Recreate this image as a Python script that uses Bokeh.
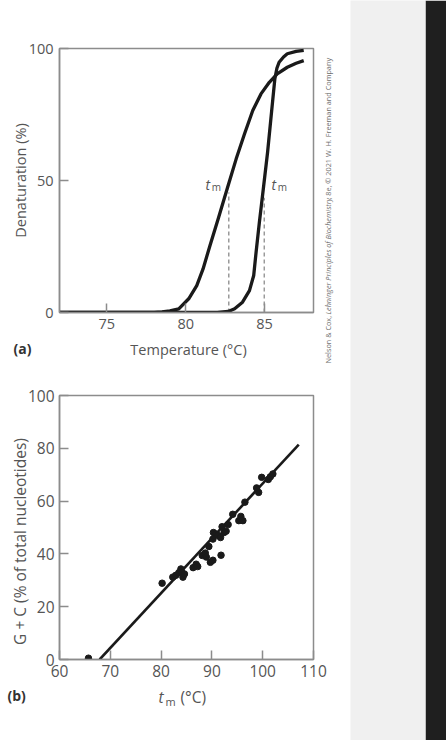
from math import pi
from bokeh.plotting import figure
from bokeh.models import Range1d, FixedTicker, Label
from bokeh.layouts import row, column
from bokeh.embed import file_html
from bokeh.resources import INLINE

# ---------------- panel (a): melting curves ----------------
temp_broad = [72.0, 78.0, 78.5, 79.0, 79.56, 80.19, 80.7, 81.1, 81.54, 82.06, 82.69,
              83.2, 83.73, 84.25, 84.77, 85.3, 85.8, 86.44, 87.0, 87.48]
den_broad = [0.0, 0.0, 0.2, 0.6, 1.4, 5.2, 10.2, 16.5, 25.4, 35.5, 48.1,
             58.2, 67.7, 76.5, 82.8, 87.2, 90.4, 92.9, 94.4, 95.4]
temp_sharp = [72.0, 82.0, 82.7, 83.1, 83.6, 84.04, 84.31, 84.46, 84.67, 84.92,
              85.19, 85.44, 85.65, 85.78, 85.92, 86.2, 86.44, 87.0, 87.48]
den_sharp = [0.0, 0.0, 0.4, 1.4, 3.9, 8.3, 14.0, 22.8, 34.2, 46.9,
             60.7, 75.9, 88.5, 92.5, 94.8, 96.8, 98.0, 98.9, 99.3]
tm_values = [82.73, 84.98]
tm_dash_top = [45.5, 43.5]
a_xticks = [75, 80, 85]
a_yticks = [0, 50, 100]

# ---------------- panel (b): G+C content vs tm ----------------
b_tm = [65.7, 80.2, 82.3, 82.9, 83.5, 83.9, 84.1, 84.3, 84.6, 86.3, 86.9, 87.2,
        88.1, 88.7, 88.9, 89.4, 89.7, 90.2, 90.2, 90.3, 90.8, 91.2, 91.7, 91.8,
        92.0, 92.4, 92.8, 93.2, 94.1, 95.3, 95.7, 96.1, 96.5, 98.8, 99.2, 99.8,
        101.1, 101.5, 102.0]
b_gc = [0.5, 28.9, 31.2, 31.9, 32.9, 34.3, 33.0, 31.2, 32.4, 34.8, 36.1, 35.2,
        39.4, 40.3, 38.8, 42.8, 36.8, 37.6, 45.6, 48.1, 47.5, 47.0, 46.2, 39.5,
        50.3, 48.1, 48.6, 51.1, 55.0, 52.6, 54.2, 52.6, 59.6, 65.0, 63.3, 69.0,
        68.2, 69.2, 70.3]
fit_tm = [67.9, 107.1]
fit_gc = [0.0, 81.4]
b_xticks = [60, 70, 80, 90, 100, 110]
b_yticks = [0, 20, 40, 60, 80, 100]

FONT = "Open Sans"
TXT = "#555555"
FRAME = "#8c8c8c"
INK = "#1a1a1a"
W = 350


def style(p, xt, yt, size, standoff):
    p.xgrid.visible = False
    p.ygrid.visible = False
    for ax in (p.xaxis[0], p.yaxis[0]):
        ax.axis_line_color = FRAME
        ax.axis_line_width = 1.5
        ax.major_tick_line_color = FRAME
        ax.major_tick_line_width = 1.5
        ax.major_tick_in = 9
        ax.major_tick_out = 0
        ax.minor_tick_line_color = None
        ax.major_label_text_font = FONT
        ax.major_label_text_font_size = size
        ax.major_label_text_color = TXT
        ax.major_label_standoff = standoff
    p.xaxis[0].ticker = FixedTicker(ticks=xt)
    p.yaxis[0].ticker = FixedTicker(ticks=yt)
    p.outline_line_color = FRAME
    p.outline_line_width = 1.5


def lab(p, text, x, y, size, color=TXT, style_="normal", align="left",
        baseline="middle", angle=0.0, units="canvas", place="below"):
    obj = Label(x=x, y=y, x_units=units, y_units=units, text=text,
                text_font=FONT, text_font_size=size, text_color=color,
                text_font_style=style_, text_align=align,
                text_baseline=baseline, angle=angle)
    if place is None:
        p.add_layout(obj)
    else:
        p.add_layout(obj, place)


# ---------------- figure (a) ----------------
pa = figure(width=W, height=370, x_range=Range1d(72, 88.1), y_range=Range1d(0, 100),
            min_border_left=59, min_border_right=W - 59 - 258, min_border_top=48,
            min_border_bottom=58, toolbar_location=None, output_backend="svg",
            background_fill_color="white", border_fill_color="white")
style(pa, a_xticks, a_yticks, "14.5px", 6)

pa.segment(x0=tm_values, y0=[0, 0], x1=tm_values, y1=tm_dash_top,
           line_color="#9a9a9a", line_width=1.5, line_dash="4 3")
pa.line(temp_broad, den_broad, line_color=INK, line_width=3.3, line_join="round")
pa.line(temp_sharp, den_sharp, line_color=INK, line_width=3.3, line_join="round")

# t_m labels (inside the frame, data units)
lab(pa, "t", tm_values[0] - 1.48, 48.6, "14px", style_="italic", baseline="alphabetic",
    units="data", place=None)
lab(pa, "m", tm_values[0] - 1.08, 47.5, "10px", baseline="alphabetic", units="data", place=None)
lab(pa, "t", tm_values[1] + 0.46, 48.6, "14px", style_="italic", baseline="alphabetic",
    units="data", place=None)
lab(pa, "m", tm_values[1] + 0.86, 47.5, "10px", baseline="alphabetic", units="data", place=None)

# axis titles and panel letter (canvas coordinates, held in side panels)
lab(pa, "Temperature (°C)", 188, 349, "14.5px", align="center", place="below")
lab(pa, "Denaturation (%)", 20, 180, "14.5px", align="center", angle=pi / 2, place="left")
lab(pa, "(a)", 13, 348, "14px", color="#333333", style_="bold", place="above")

# credit line (vertical)
lab(pa, "Nelson & Cox, ", 327, 363, "7.3px", color="#707070", angle=pi / 2, place="right")
lab(pa, "Lehninger Principles of Biochemistry", 327, 314, "7.3px", color="#707070",
    style_="italic", angle=pi / 2, place="right")
lab(pa, ", 8e, © 2021 W. H. Freeman and Company", 327, 199, "7.3px", color="#707070",
    angle=pi / 2, place="right")

# ---------------- figure (b) ----------------
pb = figure(width=W, height=370, x_range=Range1d(60, 110), y_range=Range1d(0, 100),
            min_border_left=54, min_border_right=W - 54 - 259, min_border_top=25,
            min_border_bottom=81, toolbar_location=None, output_backend="svg",
            background_fill_color="white", border_fill_color="white")
style(pb, b_xticks, b_yticks, "15.5px", 5)

pb.line(fit_tm, fit_gc, line_color=INK, line_width=2.6)
pb.scatter(b_tm, b_gc, size=6.5, fill_color=INK, line_color=INK)

lab(pb, "G + C (% of total nucleotides)", 19, 171, "15.5px", align="center",
    angle=pi / 2, place="left")
lab(pb, "t", 158, 326, "15.5px", style_="italic", place="below")
lab(pb, "m", 165, 331, "11px", place="right")
lab(pb, "(°C)", 180, 326, "15.5px", place="below")
lab(pb, "(b)", 7, 325, "14px", color="#333333", style_="bold", place="above")

# ---------------- side strip ----------------
pc = figure(width=446 - W, height=740, x_range=Range1d(0, 1), y_range=Range1d(0, 1),
            toolbar_location=None, output_backend="svg",
            x_axis_location=None, y_axis_location=None,
            min_border_left=0, min_border_right=21, min_border_top=0, min_border_bottom=0,
            background_fill_color="#f0f0f0", border_fill_color="#1f1f1f",
            outline_line_color=None)
pc.xgrid.visible = False
pc.ygrid.visible = False

layout = row(column(pa, pb), pc)
open("out.html", "w").write(file_html(layout, INLINE))
